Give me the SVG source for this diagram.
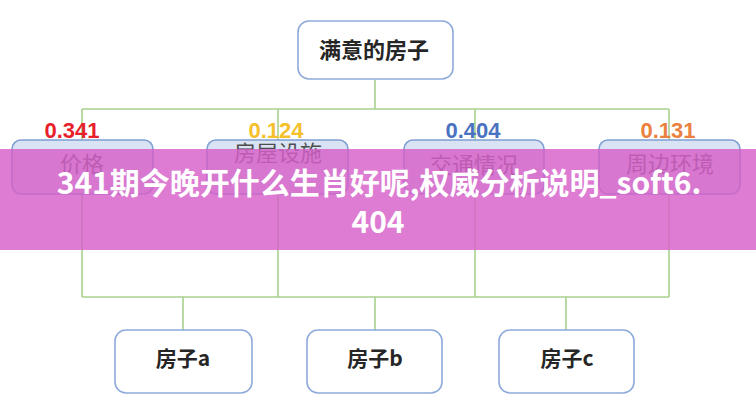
<svg xmlns="http://www.w3.org/2000/svg" width="756" height="400" viewBox="0 0 756 400">
<style>
.node{fill:#fff;stroke:#8eaadb;stroke-width:1.6}
.mid{fill:#dae3f3;stroke:#7f9fd3;stroke-width:1.6}
.conn{stroke:#a9d18e;stroke-width:1.6;fill:none}
.t{font-family:"Noto Sans CJK SC","Noto Sans",sans-serif;text-anchor:middle}
.top{font-size:22px;font-weight:bold;fill:#262626}
.lab{font-size:22px;fill:#4d4d4d}
.bot{font-size:21px;font-weight:bold;fill:#262626}
.num{font-family:"Liberation Sans",Arial,sans-serif;font-size:22px;font-weight:bold;text-anchor:middle}
.ov{font-family:"Noto Sans CJK SC","Noto Sans",sans-serif;font-size:30px;font-weight:bold;fill:#fff;text-anchor:middle}
</style>
<rect width="756" height="400" fill="#fff"/>
<g id="connectors">
<path class="conn" d="M375 80V109M82 109H669M82 109V140M278 109V140M475 109V140M669 109V140"/>
<path class="conn" d="M82 194V297M278 194V297M475 194V297M669 194V297M82 297H669M183 297V330M375 297V330M566 297V330"/>
</g>
<g id="n-top">
<rect class="node" x="298" y="21" width="155" height="58" rx="11"/>
<text class="t top" x="374" y="58">满意的房子</text>
</g>
<g id="n-price">
<rect class="mid" x="12" y="140" width="141" height="54" rx="9"/>
<text class="num" x="72" y="138" fill="#e8202a">0.341</text>
<text class="t lab" x="82" y="172">价格</text>
</g>
<g id="n-facility">
<rect class="mid" x="207" y="140" width="141" height="54" rx="9"/>
<text class="num" x="276" y="138" fill="#f5c02c">0.124</text>
<text class="t lab" x="278" y="161">房屋设施</text>
</g>
<g id="n-traffic">
<rect class="mid" x="404" y="140" width="140" height="54" rx="9"/>
<text class="num" x="473" y="138" fill="#4a72c0">0.404</text>
<text class="t lab" x="474" y="173">交通情况</text>
</g>
<g id="n-env">
<rect class="mid" x="599" y="140" width="141" height="54" rx="9"/>
<text class="num" x="668" y="138" fill="#ec8040">0.131</text>
<text class="t lab" x="670" y="172">周边环境</text>
</g>
<g id="n-a">
<rect class="node" x="115" y="330" width="137" height="63" rx="11"/>
<text class="t bot" x="183" y="366">房子a</text>
</g>
<g id="n-b">
<rect class="node" x="307" y="330" width="135" height="63" rx="11"/>
<text class="t bot" x="375" y="366">房子b</text>
</g>
<g id="n-c">
<rect class="node" x="499" y="330" width="135" height="63" rx="11"/>
<text class="t bot" x="567" y="366">房子c</text>
</g>
<g id="overlay">
<rect x="0" y="149" width="756" height="101" fill="#d55fc8" opacity="0.82"/>
<text class="ov" x="379" y="194">341期今晚开什么生肖好呢,权威分析说明_soft6.</text>
<text class="ov" x="378" y="233">404</text>
</g>
</svg>
